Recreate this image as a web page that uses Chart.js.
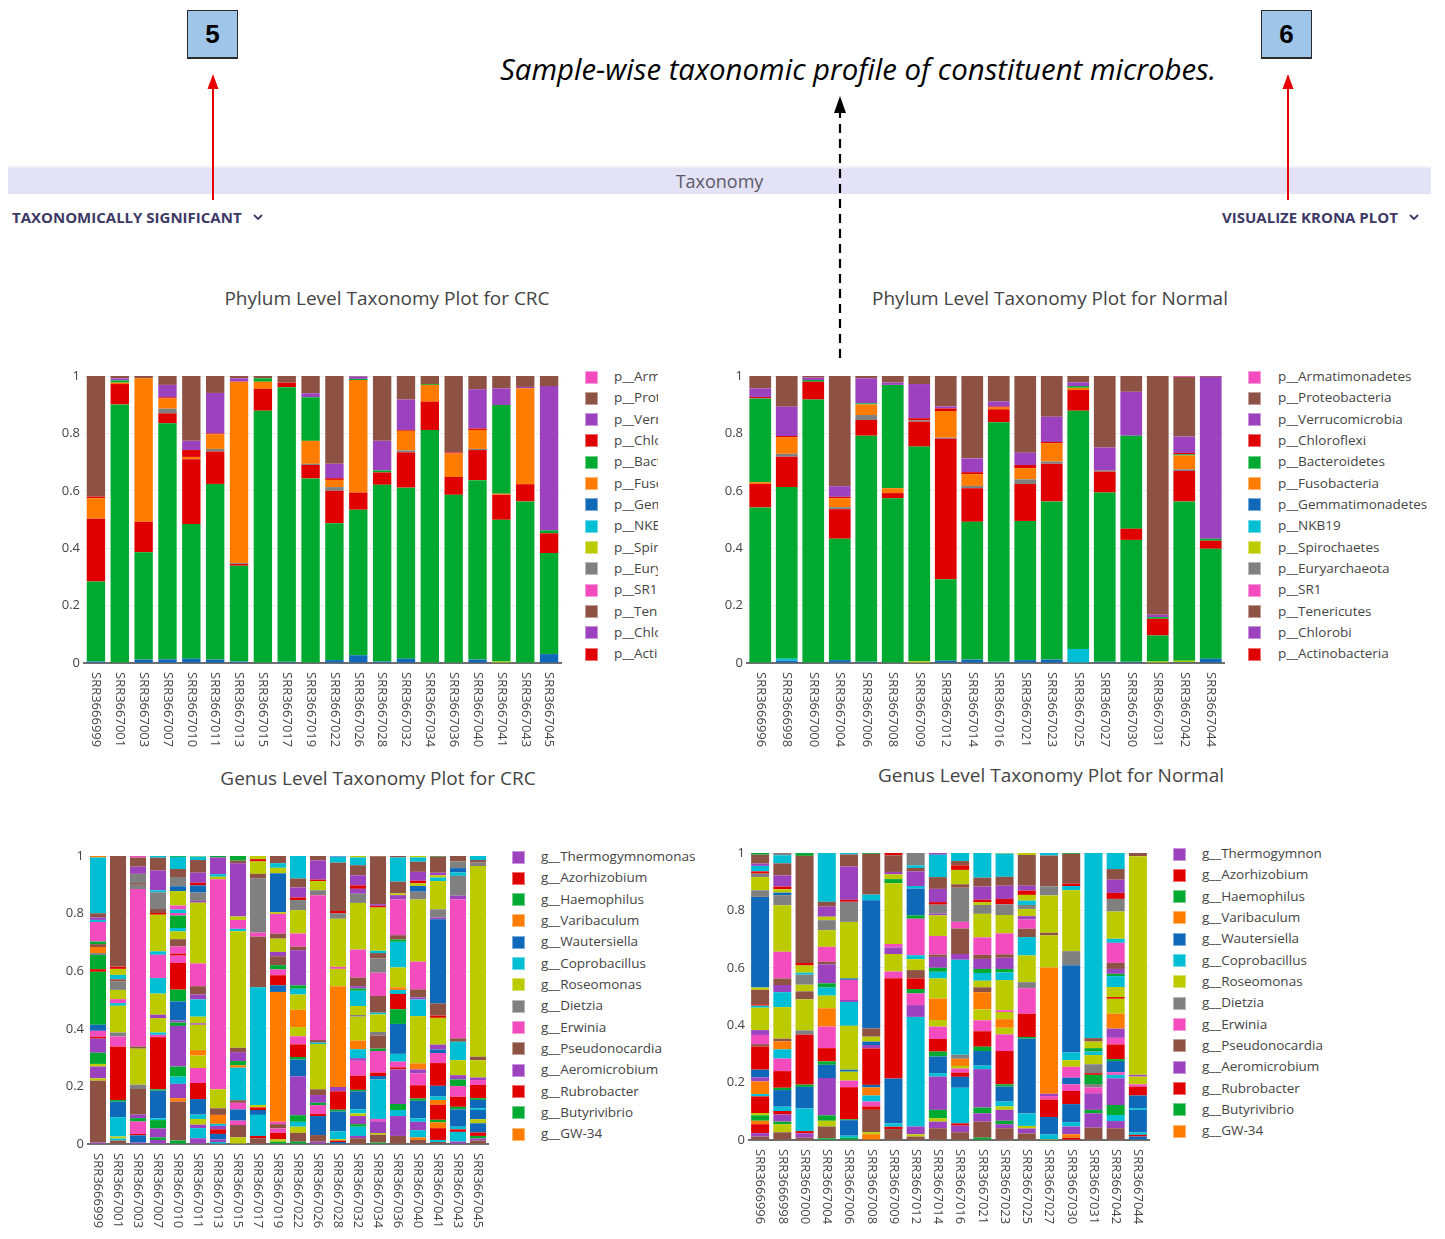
<!DOCTYPE html>
<html>
<head>
<meta charset="utf-8">
<title>Taxonomy</title>
<script src="https://cdn.jsdelivr.net/npm/chart.js@4.4.1/dist/chart.umd.min.js"></script>
<style>
  html, body { margin: 0; padding: 0; background: #fff; }
  body { width: 1445px; height: 1239px; position: relative; overflow: hidden; font-family: "Open Sans", "Noto Sans", sans-serif; }
  canvas { position: absolute; }
  .badge { position: absolute; width: 51px; height: 49px; box-sizing: border-box; background: #9fc5e8; border: 1px solid #2a2a2a; border-bottom: 2px solid #2a2a2a;
           font: bold 26px "Liberation Sans", Arial, sans-serif; color: #000; display: flex; align-items: center; justify-content: center; }
  .headline { position: absolute; left: 500px; top: 49px; font-size: 29.4px; font-style: italic; color: #000; white-space: nowrap; }
  .tabbar { position: absolute; left: 8px; top: 166px; width: 1423px; height: 28px; background: #e4e2f7; border-top: 2px solid #f0eff8; box-sizing: border-box;
            text-align: center; font-size: 18px; line-height: 26px; color: #5a5a66; }
  .menu { position: absolute; top: 207px; font-size: 15px; font-weight: 700; color: #3d3866; white-space: nowrap; display: flex; align-items: center; }
  .menu svg { margin-left: 11px; }
  .ptitle { position: absolute; font-size: 19px; color: #444; transform: translate(-50%, -50%); white-space: nowrap; }
  .sw { position: absolute; width: 13px; height: 13px; box-sizing: border-box; border: 1px solid rgba(255,255,255,0.45); }
  .lt { position: absolute; font-size: 13.5px; color: #444; white-space: nowrap; line-height: 18px; overflow: hidden; }
  svg.overlay { position: absolute; left: 0; top: 0; pointer-events: none; }
</style>
</head>
<body>

<div class="badge" style="left:187px; top:10px;">5</div>
<div class="badge" style="left:1261px; top:10px;">6</div>
<div class="headline">Sample-wise taxonomic profile of constituent microbes.</div>
<div class="tabbar">Taxonomy</div>
<div class="menu" style="left:12px;">TAXONOMICALLY SIGNIFICANT
  <svg width="10" height="7" viewBox="0 0 10 7"><path d="M1 1 L5 5 L9 1" fill="none" stroke="#3d3866" stroke-width="1.8"/></svg></div>
<div class="menu" style="left:1222px;">VISUALIZE KRONA PLOT
  <svg width="10" height="7" viewBox="0 0 10 7"><path d="M1 1 L5 5 L9 1" fill="none" stroke="#3d3866" stroke-width="1.8"/></svg></div>

<div class="ptitle" style="left:387px; top:298px;">Phylum Level Taxonomy Plot for CRC</div>
<div class="ptitle" style="left:1050px; top:298px;">Phylum Level Taxonomy Plot for Normal</div>
<div class="ptitle" style="left:378px; top:778px;">Genus Level Taxonomy Plot for CRC</div>
<div class="ptitle" style="left:1051px; top:775px;">Genus Level Taxonomy Plot for Normal</div>

<svg class="overlay" width="1445" height="1239">
  <line x1="213" y1="200" x2="213" y2="86" stroke="#e60000" stroke-width="2"/>
  <polygon points="213,74 207.5,89 218.5,89" fill="#e60000"/>
  <line x1="1288" y1="200" x2="1288" y2="86" stroke="#e60000" stroke-width="2"/>
  <polygon points="1288,74 1282.5,89 1293.5,89" fill="#e60000"/>
  <line x1="840" y1="358" x2="840" y2="110" stroke="#000" stroke-width="2.2" stroke-dasharray="9,6"/>
  <polygon points="840,96 834,113 846,113" fill="#000"/>
</svg>

<script>
// ---------- samples ----------
const crcSamples = ['SRR3666999','SRR3667001','SRR3667003','SRR3667007','SRR3667010','SRR3667011','SRR3667013','SRR3667015','SRR3667017','SRR3667019',
                    'SRR3667022','SRR3667026','SRR3667028','SRR3667032','SRR3667034','SRR3667036','SRR3667040','SRR3667041','SRR3667043','SRR3667045'];
const normalSamples = ['SRR3666996','SRR3666998','SRR3667000','SRR3667004','SRR3667006','SRR3667008','SRR3667009','SRR3667012','SRR3667014',
                       'SRR3667016','SRR3667021','SRR3667023','SRR3667025','SRR3667027','SRR3667030','SRR3667031','SRR3667042','SRR3667044'];

// ---------- phylum trace order (legend order) ----------
const phylumOrder = ['p__Armatimonadetes','p__Proteobacteria','p__Verrucomicrobia','p__Chloroflexi','p__Bacteroidetes','p__Fusobacteria',
                     'p__Gemmatimonadetes','p__NKB19','p__Spirochaetes','p__Euryarchaeota','p__SR1','p__Tenericutes','p__Chlorobi',
                     'p__Actinobacteria','p__Firmicutes'];
// stacking order, bottom to top
const phylumStack = ['p__Gemmatimonadetes','p__NKB19','p__Spirochaetes','p__Bacteroidetes','p__Chloroflexi','p__Euryarchaeota',
                     'p__Fusobacteria','p__Firmicutes','p__Actinobacteria','p__Verrucomicrobia','p__Proteobacteria','p__Armatimonadetes'];

// ---------- phylum relative abundance, CRC ----------
const crcGemmatimonadetes = [.005,0,.012,.013,.015,.012,.005,0,.004,0,.010,.027,.005,.015,0,0,.012,0,0,.031];
const crcNKB19            = [0,0,0,0,0,0,0,0,0,0,0,0,0,0,0,0,0,0,0,0];
const crcSpirochaetes     = [0,0,0,0,0,0,0,0,0,0,0,0,0,0,0,0,0,.005,0,0];
const crcBacteroidetes    = [.279,.901,.374,.822,.469,.612,.334,.879,.957,.643,.477,.507,.616,.596,.812,.586,.625,.494,.563,.352];
const crcChloroflexi      = [.219,.071,.106,.035,.226,.113,.006,.076,.016,.047,.113,.060,.043,.123,.099,.062,.105,.087,.060,.069];
const crcEuryarchaeota    = [0,0,0,.016,0,.009,.003,0,0,.004,.013,0,0,.007,0,0,.004,0,0,0];
const crcFusobacteria     = [.071,.005,.500,.036,.008,.051,.632,.025,0,.080,.025,.392,0,.068,.058,.082,.066,.004,.334,0];
const crcFirmicutes       = [0,.008,0,0,0,0,0,.012,0,.152,0,.004,.007,0,.003,0,0,.309,0,.010];
const crcActinobacteria   = [.006,0,0,.004,.024,.003,0,0,0,0,.006,0,0,.003,0,.004,.005,0,0,0];
const crcVerrucomicrobia  = [0,.007,0,.043,.032,.141,.012,0,0,.014,.050,.008,.103,.106,0,0,.137,.058,.005,.503];
const crcProteobacteria   = [.420,.008,.008,.031,.226,.059,.008,.008,.023,.060,.306,.002,.226,.082,.028,.266,.046,.043,.038,.035];
const crcArmatimonadetes  = [0,0,0,0,0,0,0,0,0,0,0,0,0,0,0,0,0,0,0,0];

// ---------- phylum relative abundance, Normal ----------
const normGemmatimonadetes = [0,.008,0,.010,.004,0,0,.008,.012,.004,.010,.012,0,.004,.004,0,.003,.015];
const normNKB19            = [0,.007,0,0,0,0,0,0,0,0,0,0,.049,0,0,0,0,0];
const normSpirochaetes     = [0,0,0,0,0,0,.006,0,0,0,0,0,0,0,0,.005,.005,0];
const normBacteroidetes    = [.542,.598,.918,.423,.788,.574,.748,.284,.480,.835,.485,.551,.830,.590,.425,.091,.555,.383];
const normChloroflexi      = [.082,.106,.062,.103,.055,.018,.087,.489,.117,.045,.129,.131,.072,.073,.039,.058,.106,.028];
const normEuryarchaeota    = [0,.010,0,.007,.017,0,.005,.004,.008,0,.016,.008,0,.005,0,0,.006,0];
const normFusobacteria     = [.006,.058,0,.031,.037,.017,0,.093,.041,.006,.039,.064,.008,0,0,0,.048,0];
const normFirmicutes       = [.292,0,.006,0,.004,.360,0,0,0,0,0,0,.006,0,.324,.006,.004,.007];
const normActinobacteria   = [.005,.004,0,.005,0,0,.007,.009,.007,.004,.011,.004,0,0,0,0,.005,0];
const normVerrucomicrobia  = [.030,.102,.008,.037,.087,.008,.119,.007,.048,.017,.043,.088,.013,.079,.153,.008,.057,.564];
const normProteobacteria   = [.043,.107,.006,.384,.008,.023,.028,.106,.287,.089,.267,.142,.022,.249,.055,.832,.208,.003];
const normArmatimonadetes  = [0,0,0,0,0,0,0,0,0,0,0,0,0,0,0,0,.003,0];

// ---------- genera (legend order) ----------
const genusOrder = ['g__Thermogymnomonas','g__Azorhizobium','g__Haemophilus','g__Varibaculum','g__Wautersiella','g__Coprobacillus',
                    'g__Roseomonas','g__Dietzia','g__Erwinia','g__Pseudonocardia','g__Aeromicrobium','g__Rubrobacter','g__Butyrivibrio','g__GW-34'];
const normalGenusLegend = ['g__Thermogymnon','g__Azorhizobium','g__Haemophilus','g__Varibaculum','g__Wautersiella','g__Coprobacillus',
                    'g__Roseomonas','g__Dietzia','g__Erwinia','g__Pseudonocardia','g__Aeromicrobium','g__Rubrobacter','g__Butyrivibrio','g__GW-34'];
// short codes used in the per-sample composition strings
const genusCode = { U:'g__Thermogymnomonas', R:'g__Azorhizobium', G:'g__Haemophilus', O:'g__Varibaculum', L:'g__Wautersiella',
                    C:'g__Coprobacillus', Y:'g__Roseomonas', A:'g__Dietzia', P:'g__Erwinia', B:'g__Pseudonocardia' };

// per-sample genus composition, bottom to top
const crcGenusStacks = [
  'U.005 B.215 Y.008 U.041 Y.009 G.039 U.049 R.006 P.021 L.021 G.184 R.009 G.049 A.007 O.021 B.010 G.009 P.068 C.007 U.009 B.014 C.194 O.005',
  'B.012 C.007 Y.007 C.067 L.054 G.006 R.185 P.035 A.014 Y.093 C.009 P.014 Y.032 A.029 B.008 C.015 Y.021 R.008 B.384',
  'U.005 L.025 R.005 P.043 G.012 U.012 B.089 A.015 Y.125 B.008 P.546 A.015 B.006 A.032 U.025 B.032 P.005',
  'U.014 G.009 U.031 G.029 C.006 L.096 G.005 R.181 P.008 C.008 Y.050 U.012 Y.073 C.054 P.081 C.012 Y.127 R.006 B.014 A.058 C.007 U.069 B.044 C.006',
  'G.012 B.135 O.012 U.050 C.025 G.035 U.141 G.012 U.007 L.066 G.041 R.093 P.025 R.007 P.025 B.025 Y.027 C.012 G.043 P.009 C.012 P.014 Y.050 L.017 A.032 B.028 C.042 G.003',
  'U.020 C.035 U.012 Y.020 C.015 L.054 R.056 P.052 Y.043 O.019 Y.088 U.005 Y.023 C.060 U.017 B.029 P.079 Y.211 U.006 A.029 L.025 R.009 U.035 B.044 C.012 Y.002',
  'C.007 U.009 L.019 R.016 U.012 C.007 O.031 B.023 Y.066 P.729 Y.009 C.009 U.058 G.005',
  'Y.023 B.043 P.015 L.039 P.023 B.009 C.113 O.008 G.015 U.031 B.015 Y.405 C.008 P.031 Y.012 U.185 B.009 G.016',
  'B.020 R.008 C.073 L.017 R.009 Y.008 C.409 B.176 P.014 A.189 B.015 Y.043 R.008 Y.011',
  'G.008 Y.008 R.023 P.015 B.015 P.008 O.451 L.023 R.035 P.020 G.015 B.031 U.015 Y.046 B.017 P.069 Y.006 L.135 Y.019 C.016 B.025',
  'G.008 B.031 Y.021 C.017 G.023 U.135 L.058 G.009 R.044 P.028 Y.032 O.060 Y.053 C.020 G.012 U.122 B.012 P.046 Y.081 A.035 R.009 U.035 B.031 C.078',
  'U.008 B.023 L.066 R.007 P.031 G.008 U.027 B.020 Y.157 C.005 B.009 P.503 A.017 Y.032 R.005 U.067 B.015',
  'L.007 R.005 Y.005 C.027 L.069 G.006 R.064 U.015 O.350 Y.060 P.007 Y.167 A.019 R.008 B.168 C.021 U.002',
  'B.020 U.008 C.032 G.009 U.028 Y.009 C.014 L.063 G.005 R.049 P.052 U.009 C.031 O.030 Y.083 A.006 Y.031 C.053 G.008 U.008 B.030 P.097 Y.162 A.032 U.017 R.012 U.035 B.035 C.027 Y.005',
  'G.005 B.027 Y.006 U.041 P.008 C.137 L.012 R.012 P.075 G.008 B.046 A.012 Y.061 C.006 B.058 P.081 A.049 B.019 C.008 Y.150 R.006 U.006 B.166 Y.001',
  'B.028 U.069 C.021 G.021 U.120 R.007 P.020 C.027 L.104 G.051 R.053 C.014 O.009 Y.069 C.089 G.008 B.015 P.124 U.015 Y.006 B.041 C.084 B.005',
  'B.014 O.009 C.025 U.029 C.012 L.061 G.008 R.046 P.041 U.014 O.021 Y.164 C.058 U.007 B.028 P.096 Y.216 A.027 L.020 Y.009 R.009 U.031 B.035 C.015 Y.005',
  'B.007 C.007 R.041 O.020 G.009 R.052 O.017 C.012 L.037 R.079 P.035 L.012 U.017 Y.093 R.008 B.042 L.292 U.006 A.029 Y.098 C.012 Y.008 U.009 B.056 G.002',
  'U.008 C.034 R.009 C.009 L.060 G.009 R.035 P.037 G.023 U.015 Y.052 C.064 B.012 P.483 U.012 A.069 C.012 L.015 A.023 B.019',
  'B.012 U.007 G.009 R.012 L.032 Y.014 L.032 C.006 L.029 G.006 R.046 P.017 U.009 Y.060 B.012 Y.662 A.012 B.009 C.014'
];
const normalGenusStacks = [
  'B.012 U.012 R.031 O.012 G.019 Y.008 R.058 C.008 O.044 U.014 L.027 R.081 B.008 P.032 U.017 Y.078 C.007 R.005 B.050 Y.008 L.316 A.023 Y.046 A.012 R.008 C.019 U.008 B.031 G.006',
  'B.027 Y.028 G.009 U.025 R.012 C.015 L.058 G.008 R.058 P.044 C.032 O.028 B.009 Y.110 C.052 U.025 B.023 P.093 Y.162 A.035 L.009 Y.012 R.009 U.039 B.042 C.028 A.008',
  'B.008 U.015 R.008 C.079 L.075 G.008 R.174 A.015 Y.108 B.028 Y.023 A.035 C.007 Y.025 R.009 B.373 G.010',
  'G.006 B.041 Y.020 G.019 U.130 L.046 G.012 R.046 P.075 O.064 Y.044 C.028 G.015 U.066 B.009 P.052 Y.058 A.035 Y.012 U.035 B.017 C.170',
  'G.008 C.007 L.054 G.003 R.112 P.023 Y.031 L.007 Y.153 C.083 U.007 P.070 L.005 Y.197 A.070 R.007 U.116 B.042 C.005',
  'O.020 Y.007 B.078 R.012 P.017 C.021 O.028 L.009 R.127 U.012 L.012 Y.017 B.029 L.446 C.020 B.142 G.003',
  'B.038 R.008 C.012 L.156 R.350 P.023 Y.061 U.023 P.012 Y.212 G.014 Y.017 U.008 B.058 R.008',
  'B.012 Y.008 U.027 C.382 U.041 P.041 G.015 R.037 B.029 Y.038 C.014 P.127 G.012 L.093 C.009 U.051 B.012 C.009 A.043',
  'B.041 U.023 Y.012 G.029 U.116 C.012 L.058 G.017 R.044 P.043 Y.023 O.075 Y.070 C.023 G.014 U.038 B.008 P.065 Y.072 U.006 A.031 R.009 U.046 B.041 C.078 U.006',
  'B.027 U.023 R.008 C.124 L.038 R.015 P.014 Y.009 O.025 A.014 C.331 U.020 B.089 P.023 A.119 B.012 Y.050 R.016 B.015 C.028',
  'G.008 B.056 U.029 G.020 U.134 C.012 L.051 G.015 R.054 P.038 Y.038 O.060 B.017 Y.023 C.027 G.014 U.035 B.014 P.061 Y.082 A.031 Y.009 R.009 U.046 B.031 C.086',
  'B.041 U.014 G.012 U.038 Y.012 C.017 L.052 G.008 R.116 P.058 Y.023 O.030 Y.025 P.006 Y.105 C.027 G.012 U.039 B.012 P.073 Y.064 A.037 R.019 U.046 B.031 C.081 Y.002',
  'B.023 U.017 Y.009 C.043 L.261 G.006 R.081 P.089 A.021 Y.093 C.064 B.029 P.032 U.012 Y.025 A.014 C.015 Y.020 R.015 U.017 B.107 Y.007',
  'Y.003 C.016 L.061 R.061 P.012 U.008 O.440 Y.112 B.009 Y.130 A.032 B.107 C.009',
  'R.008 O.012 U.027 C.015 L.063 R.046 P.023 L.023 P.038 Y.023 C.027 L.304 A.049 Y.212 C.015 R.008 B.104 G.003',
  'B.043 U.050 G.012 U.058 P.020 A.012 G.032 R.006 A.031 Y.032 C.012 G.012 Y.023 B.012 C.645',
  'B.041 U.025 C.021 G.035 U.093 C.012 P.009 L.039 G.007 R.051 P.023 U.032 O.052 Y.052 R.006 Y.035 C.038 G.008 U.017 B.021 P.070 C.014 Y.095 A.044 R.021 U.046 B.037 C.056',
  'L.012 R.006 C.009 L.078 C.006 L.044 R.031 P.008 Y.027 U.006 Y.762 B.011'
];

// ---------- drawing ----------
const palette = ['#f24cbe','#8e5245','#9c42be','#e10000','#00aa30','#ff7c00','#1069b8','#00bed3','#bccb00','#808080'];
const phylumColor = name => palette[phylumOrder.indexOf(name) % 10];
const genusColor  = name => palette[(genusOrder.indexOf(name) + 2) % 10];

const crcPhylumValues = {
  'p__Gemmatimonadetes': crcGemmatimonadetes, 'p__NKB19': crcNKB19, 'p__Spirochaetes': crcSpirochaetes,
  'p__Bacteroidetes': crcBacteroidetes, 'p__Chloroflexi': crcChloroflexi, 'p__Euryarchaeota': crcEuryarchaeota,
  'p__Fusobacteria': crcFusobacteria, 'p__Firmicutes': crcFirmicutes, 'p__Actinobacteria': crcActinobacteria,
  'p__Verrucomicrobia': crcVerrucomicrobia, 'p__Proteobacteria': crcProteobacteria, 'p__Armatimonadetes': crcArmatimonadetes };
const normPhylumValues = {
  'p__Gemmatimonadetes': normGemmatimonadetes, 'p__NKB19': normNKB19, 'p__Spirochaetes': normSpirochaetes,
  'p__Bacteroidetes': normBacteroidetes, 'p__Chloroflexi': normChloroflexi, 'p__Euryarchaeota': normEuryarchaeota,
  'p__Fusobacteria': normFusobacteria, 'p__Firmicutes': normFirmicutes, 'p__Actinobacteria': normActinobacteria,
  'p__Verrucomicrobia': normVerrucomicrobia, 'p__Proteobacteria': normProteobacteria, 'p__Armatimonadetes': normArmatimonadetes };

function phylumDatasets(values) {
  return phylumStack.map(name => ({
    label: name, data: values[name], backgroundColor: phylumColor(name), borderWidth: 0
  }));
}

// each sample stacks its own sequence of genera; layer k holds the k-th block of every sample
function genusDatasets(stacks) {
  const parsed = stacks.map(s => s.split(/\s+/).map(t => ({ genus: genusCode[t[0]], value: parseFloat(t.slice(1)) })));
  const depth = Math.max(...parsed.map(p => p.length));
  const sets = [];
  for (let k = 0; k < depth; k++) {
    sets.push({
      label: 'layer ' + k,
      data: parsed.map(p => p[k] ? p[k].value : 0),
      backgroundColor: parsed.map(p => p[k] ? genusColor(p[k].genus) : 'rgba(0,0,0,0)'),
      borderWidth: 0
    });
  }
  return sets;
}

const verticalSampleLabels = {
  id: 'verticalSampleLabels',
  afterDraw(chart) {
    const { ctx, chartArea, scales: { x } } = chart;
    ctx.save();
    ctx.font = '13px "Open Sans", "Noto Sans", sans-serif';
    ctx.fillStyle = '#444';
    ctx.textAlign = 'left';
    ctx.textBaseline = 'middle';
    chart.data.labels.forEach((lab, i) => {
      ctx.save();
      ctx.translate(x.getPixelForValue(i), chartArea.bottom + 9);
      ctx.rotate(Math.PI / 2);
      ctx.fillText(lab, 0, 0);
      ctx.restore();
    });
    ctx.restore();
  }
};

const Y_AXIS_W = 44, PAD_T = 12, PAD_R = 6, X_AXIS_H = 95;

function makeChart(area, labels, datasets, barPct) {
  const left = area.l - Y_AXIS_W, top = area.t - PAD_T;
  const cv = document.createElement('canvas');
  cv.width = area.r - left + PAD_R;
  cv.height = area.b - top + X_AXIS_H;
  cv.style.left = left + 'px';
  cv.style.top = top + 'px';
  document.body.appendChild(cv);
  new Chart(cv, {
    type: 'bar',
    data: { labels, datasets },
    options: {
      responsive: false, animation: false,
      layout: { padding: { top: PAD_T, right: PAD_R, left: 0, bottom: 0 } },
      datasets: { bar: { barPercentage: barPct, categoryPercentage: 1 } },
      plugins: { legend: { display: false }, tooltip: { enabled: false } },
      scales: {
        x: {
          stacked: true,
          grid: { display: false, drawTicks: false },
          border: { display: true, color: '#6e6e6e', width: 2 },
          ticks: { display: false },
          afterFit: s => { s.height = X_AXIS_H; }
        },
        y: {
          stacked: true, min: 0, max: 1,
          grid: { color: '#ececec', drawTicks: false },
          border: { display: false },
          ticks: {
            stepSize: 0.2, padding: 4, color: '#444',
            font: { family: '"Open Sans", "Noto Sans", sans-serif', size: 13 },
            callback: v => String(Number(v.toFixed(1)))
          },
          afterFit: s => { s.width = Y_AXIS_W; }
        }
      }
    },
    plugins: [verticalSampleLabels]
  });
}

function makeLegend(names, colorOf, swatchX, textX, firstY, clipW) {
  names.forEach((name, i) => {
    const y = firstY + i * 21.33;
    const sw = document.createElement('div');
    sw.className = 'sw';
    sw.style.left = swatchX + 'px';
    sw.style.top = (y - 6.5) + 'px';
    sw.style.background = colorOf(i);
    document.body.appendChild(sw);
    const tx = document.createElement('div');
    tx.className = 'lt';
    tx.textContent = name;
    tx.style.left = textX + 'px';
    tx.style.top = (y - 10) + 'px';
    if (clipW) tx.style.width = clipW + 'px';
    document.body.appendChild(tx);
  });
}

makeChart({ l: 84,  r: 561,  t: 376, b: 663 },  crcSamples,    phylumDatasets(crcPhylumValues),  0.77);
makeChart({ l: 747, r: 1224, t: 376, b: 663 },  normalSamples, phylumDatasets(normPhylumValues), 0.82);
makeChart({ l: 88,  r: 488,  t: 856, b: 1144 }, crcSamples,    genusDatasets(crcGenusStacks),    0.8);
makeChart({ l: 749, r: 1149, t: 853, b: 1140 }, normalSamples, genusDatasets(normalGenusStacks), 0.81);

const phylumLegend = phylumOrder.slice(0, 14);
makeLegend(phylumLegend, i => palette[i % 10], 585, 614, 377, 44);
makeLegend(phylumLegend, i => palette[i % 10], 1248, 1278, 377, 0);
makeLegend(genusOrder, i => palette[(i + 2) % 10], 512, 541, 857, 0);
makeLegend(normalGenusLegend, i => palette[(i + 2) % 10], 1173, 1202, 854, 0);
</script>
</body>
</html>
